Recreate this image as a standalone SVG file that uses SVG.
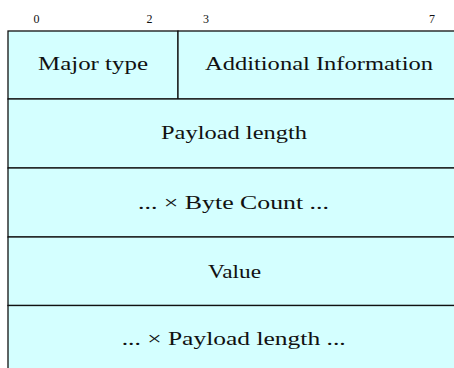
<svg xmlns="http://www.w3.org/2000/svg" width="454" height="368" viewBox="0 0 454 368">
<style>
.cell{fill:#d4ffff;stroke:#111;stroke-width:1.3}
.lbl{font-family:"Liberation Serif","Times New Roman",serif;font-size:19.5px;fill:#111;text-anchor:middle}
.bit{font-family:"Liberation Serif","Times New Roman",serif;font-size:12px;fill:#111;text-anchor:middle}
</style>
<rect width="454" height="368" fill="#fff"/>
<g id="bits">
<text class="bit" x="36.5" y="22.7">0</text>
<text class="bit" x="149.5" y="22.7">2</text>
<text class="bit" x="206" y="22.7">3</text>
<text class="bit" x="432" y="22.7">7</text>
</g>
<g id="major-type">
<rect class="cell" x="8" y="31" width="170" height="68"/>
<text class="lbl" x="93" y="70" textLength="110" lengthAdjust="spacingAndGlyphs">Major type</text>
</g>
<g id="additional-information">
<rect class="cell" x="178" y="31" width="282" height="68"/>
<text class="lbl" x="319" y="70" textLength="228" lengthAdjust="spacingAndGlyphs">Additional Information</text>
</g>
<g id="payload-length">
<rect class="cell" x="8" y="99" width="452" height="69"/>
<text class="lbl" x="234" y="139" textLength="146" lengthAdjust="spacingAndGlyphs">Payload length</text>
</g>
<g id="byte-count">
<rect class="cell" x="8" y="168" width="452" height="69"/>
<text class="lbl" x="233.5" y="208.5" textLength="191" lengthAdjust="spacingAndGlyphs">... × Byte Count ...</text>
</g>
<g id="value">
<rect class="cell" x="8" y="237" width="452" height="68.5"/>
<text class="lbl" x="234.5" y="277.5" textLength="53" lengthAdjust="spacingAndGlyphs">Value</text>
</g>
<g id="payload-bytes">
<rect class="cell" x="8" y="305.5" width="452" height="68"/>
<text class="lbl" x="233.7" y="344.7" textLength="224" lengthAdjust="spacingAndGlyphs">... × Payload length ...</text>
</g>
</svg>
